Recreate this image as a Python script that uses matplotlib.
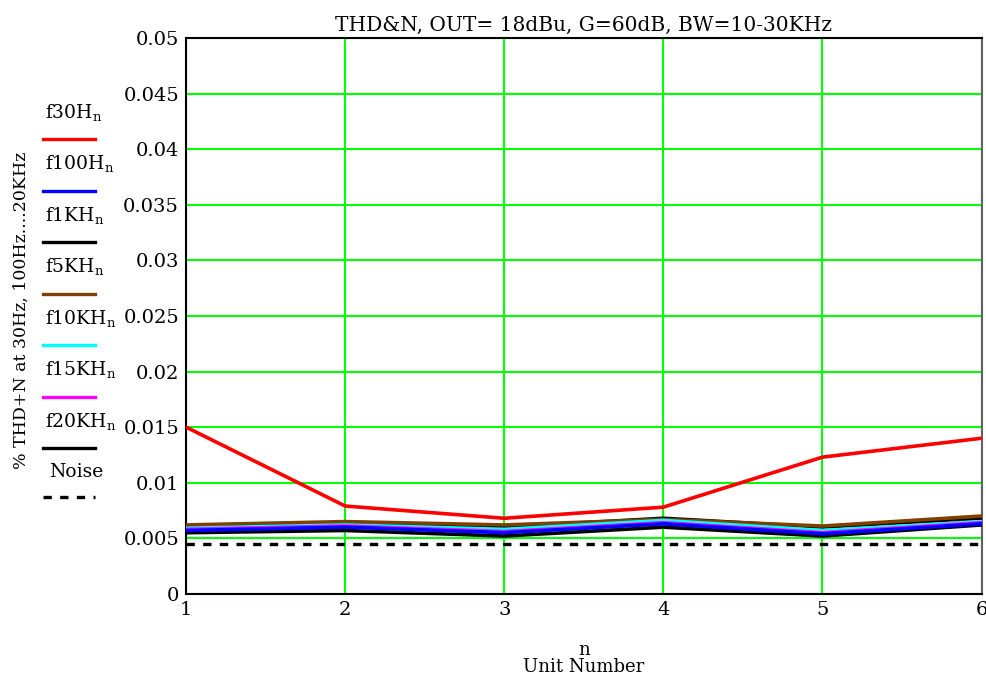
import matplotlib
matplotlib.use("Agg")
import matplotlib.pyplot as plt
from matplotlib.lines import Line2D

plt.rcParams["font.family"] = ["DejaVu Serif", "Liberation Serif"]

n = [1, 2, 3, 4, 5, 6]
f30H = [0.0150, 0.0079, 0.0068, 0.0078, 0.0123, 0.0140]
f100H = [0.0057, 0.0060, 0.0055, 0.0063, 0.0054, 0.0063]
f1KH = [0.0061, 0.0064, 0.0060, 0.0068, 0.0060, 0.0068]
f5KH = [0.0062, 0.0065, 0.0062, 0.0067, 0.0061, 0.0070]
f10KH = [0.0059, 0.0062, 0.0058, 0.0066, 0.0057, 0.0065]
f15KH = [0.0058, 0.0061, 0.0056, 0.0064, 0.0055, 0.0064]
f20KH = [0.0055, 0.0057, 0.0052, 0.0060, 0.0052, 0.0062]
noise = [0.0045, 0.0045, 0.0045, 0.0045, 0.0045, 0.0045]

labels = ["f30H", "f100H", "f1KH", "f5KH", "f10KH", "f15KH", "f20KH"]
colors = ["#ff0000", "#0000ff", "#000000", "#804000", "#00ffff", "#ff00ff", "#000000"]
series = [f30H, f100H, f1KH, f5KH, f10KH, f15KH, f20KH]

fig = plt.figure(figsize=(9.87, 6.81), dpi=100)
ax = fig.add_axes([0.1885, 0.128, 0.806, 0.816])

ax.grid(True, color="#00ff00", linewidth=1.5)
ax.set_axisbelow(True)

# black outline lines first so the coloured ones sit between them
order = [6, 2, 3, 4, 5, 1, 0]
for i in order:
    ax.plot(n, series[i], color=colors[i], linewidth=2.6, zorder=3 + order.index(i) * 0.1)
ax.plot(n, noise, color="black", linewidth=2.4, linestyle=(0, (2.5, 2.5)), zorder=3)

ax.set_xlim(1, 6)
ax.set_ylim(0, 0.05)
ax.set_xticks(n)
ax.set_yticks([0, 0.005, 0.01, 0.015, 0.02, 0.025, 0.03, 0.035, 0.04, 0.045, 0.05])
ax.set_yticklabels(["0", "0.005", "0.01", "0.015", "0.02", "0.025", "0.03",
                    "0.035", "0.04", "0.045", "0.05"])
ax.tick_params(length=0, labelsize=14, pad=5)
for side in ["left", "bottom", "top"]:
    ax.spines[side].set_color("black")
    ax.spines[side].set_linewidth(1.5)
ax.spines["right"].set_color("#606060")
ax.spines["right"].set_linewidth(1.5)

ax.set_title("THD&N, OUT= 18dBu, G=60dB, BW=10-30KHz", fontsize=14.5, pad=5)
ax.set_xlabel("n\nUnit Number", fontsize=13, labelpad=16, linespacing=0.9)
fig.text(0.022, 1 - 310 / 681, "% THD+N at 30Hz, 100Hz....20KHz", rotation=90,
         ha="center", va="center", fontsize=12.5)

# hand-made legend on the left, label above each line sample
W, H = 987, 681
for k in range(8):
    ly = 139 + k * 51.5
    if k < 7:
        txt = labels[k] + "$_\\mathregular{n}$"
        fig.text(45 / W, 1 - (ly - 26) / H, txt, fontsize=13.5, ha="left", va="center")
        fig.add_artist(Line2D([43 / W, 95 / W], [1 - ly / H, 1 - ly / H],
                              color=colors[k], linewidth=2.4, transform=fig.transFigure))
    else:
        ly = 497
        fig.text(49 / W, 1 - (ly - 25) / H, "Noise", fontsize=13.5, ha="left", va="center")
        fig.add_artist(Line2D([43 / W, 95 / W], [1 - ly / H, 1 - ly / H],
                              color="black", linewidth=2.4, linestyle=(0, (2.5, 2.5)),
                              transform=fig.transFigure))

fig.savefig("out.png", dpi=100)
